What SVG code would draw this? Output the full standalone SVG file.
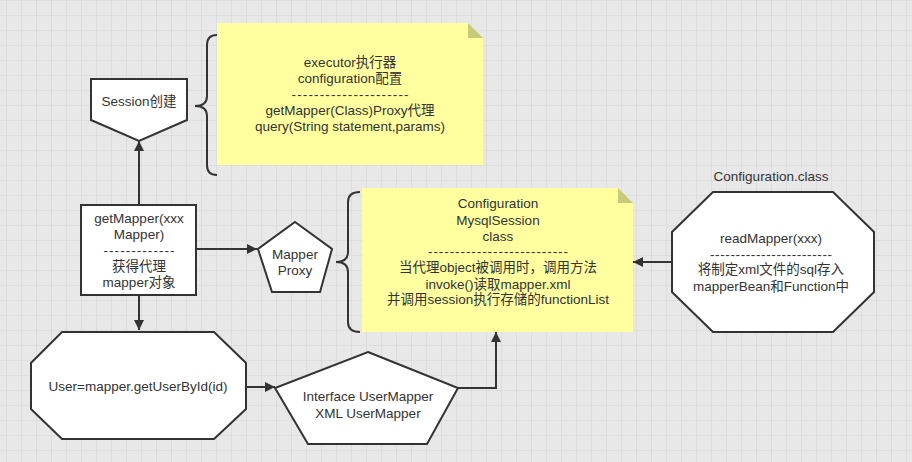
<svg xmlns="http://www.w3.org/2000/svg" width="912" height="462" viewBox="0 0 912 462">
<defs>
<pattern id="grid" x="6" y="0" width="15" height="15" patternUnits="userSpaceOnUse">
<path d="M0,0 H15 M0,0 V15" fill="none" stroke="#d6d6d6" stroke-width="1.2"/>
</pattern>
<marker id="arr" viewBox="0 0 10 10" refX="10" refY="5" markerWidth="10" markerHeight="10" markerUnits="userSpaceOnUse" orient="auto">
<path d="M0,0 L10,5 L0,10 Z" fill="#333"/>
</marker>
</defs>
<style>
.shape{fill:#fff;stroke:#333;stroke-width:2}
.note{fill:#ffffa0;stroke:none}
.fold{fill:#c9c97a}
.brace{fill:none;stroke:#333;stroke-width:2}
.edge{fill:none;stroke:#333;stroke-width:2;marker-end:url(#arr)}
text{font-family:"Liberation Sans","Noto Sans CJK SC",sans-serif;font-size:13.5px;fill:#333;text-anchor:middle}
</style>
<rect x="0" y="0" width="912" height="462" fill="#e8e8e8"/>
<rect x="0" y="0" width="912" height="462" fill="url(#grid)"/>

<g id="note1">
<path class="note" d="M217,23 H468 L483,38 V165 H217 Z"/>
<path class="fold" d="M468,23 L483,38 H468 Z"/>
<path class="brace" d="M217,35 Q207,35 207,45 L207,96 Q207,106 195,106 Q207,106 207,116 L207,165 Q207,175 217,175"/>
<text x="350" y="67">executor执行器</text>
<text x="350" y="83">configuration配置</text>
<text x="350" y="99" textLength="117" lengthAdjust="spacing">---------------------</text>
<text x="350" y="115">getMapper(Class)Proxy代理</text>
<text x="350" y="131">query(String statement,params)</text>
</g>

<g id="session">
<path class="shape" d="M91,79 H187 V120 L139,141 L91,120 Z"/>
<text x="139" y="106">Session创建</text>
</g>

<g id="getmapper">
<rect class="shape" x="81" y="205" width="115" height="90"/>
<text x="139" y="223">getMapper(xxx</text>
<text x="139" y="239">Mapper)</text>
<text x="139" y="255" textLength="71" lengthAdjust="spacing">-------------</text>
<text x="139" y="271">获得代理</text>
<text x="139" y="287">mapper对象</text>
</g>

<g id="mapperproxy">
<path class="shape" d="M295,222 L332,249 L320,292 H272 L258,249 Z"/>
<text x="295" y="259">Mapper</text>
<text x="295" y="275">Proxy</text>
</g>

<g id="note2">
<path class="note" d="M362,188 H618 L633,203 V332 H362 Z"/>
<path class="fold" d="M618,188 L633,203 H618 Z"/>
<path class="brace" d="M360,192 Q348,192 348,202 L348,252 Q348,262 336,262 Q348,262 348,272 L348,322 Q348,332 360,332"/>
<text x="498" y="208">Configuration</text>
<text x="498" y="225">MysqlSession</text>
<text x="498" y="241">class</text>
<text x="498" y="256" textLength="140" lengthAdjust="spacing">--------------------------</text>
<text x="498" y="272">当代理object被调用时，调用方法</text>
<text x="498" y="289">invoke()读取mapper.xml</text>
<text x="498" y="304">并调用session执行存储的functionList</text>
</g>

<g id="readmapper">
<text x="771" y="181">Configuration.class</text>
<path class="shape" d="M713,192 H833 L874,232 V292 L833,332 H713 L672,292 V232 Z"/>
<text x="771" y="243">readMapper(xxx)</text>
<text x="771" y="259" textLength="122" lengthAdjust="spacing">------------------------</text>
<text x="771" y="274">将制定xml文件的sql存入</text>
<text x="771" y="291">mapperBean和Function中</text>
</g>

<g id="usermapper-call">
<path class="shape" d="M62,332 H214 L246,363 V409 L214,439 H62 L31,409 V363 Z"/>
<text x="138" y="391">User=mapper.getUserById(id)</text>
</g>

<g id="interface">
<path class="shape" d="M368,352 L458,388 L427,444 H308 L275,388 Z"/>
<text x="368" y="401">Interface UserMapper</text>
<text x="368" y="418">XML UserMapper</text>
</g>

<g id="connectors">
<path class="edge" d="M139,205 V141"/>
<path class="edge" d="M196,249 H257"/>
<path class="edge" d="M672,262 H633"/>
<path class="edge" d="M139,295 V330"/>
<path class="edge" d="M246,387 H275"/>
<path class="edge" d="M458,388 H496 V332"/>
</g>
</svg>
